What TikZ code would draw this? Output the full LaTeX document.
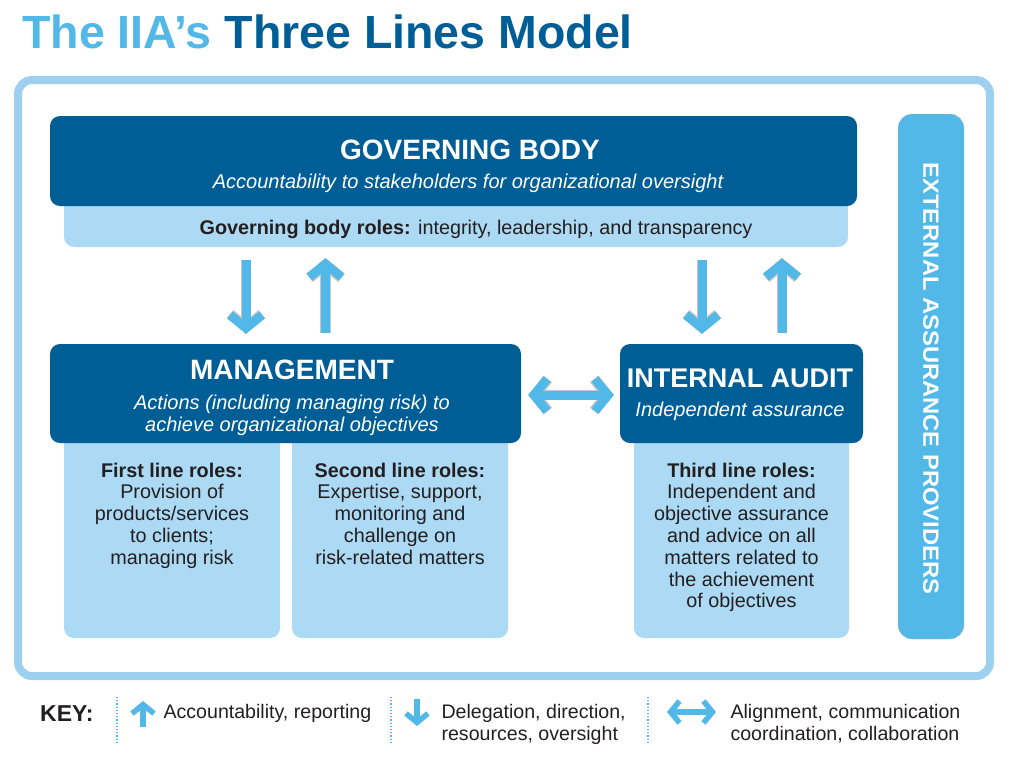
\documentclass[tikz,border=0pt]{standalone}
\usepackage{fontspec}
\setmainfont{Liberation Sans}
\usepackage{color}
\usepackage{tikz}
\usetikzlibrary{arrows.meta}

\definecolor{iiadark}{HTML}{005E96}
\definecolor{iialight}{HTML}{52B8E8}
\definecolor{iiapale}{HTML}{ACD9F3}
\definecolor{iiaframe}{HTML}{9DCFEE}
\definecolor{iiatext}{HTML}{231F20}

\begin{document}
\begin{tikzpicture}[x=1pt, y=-1pt,
		dark/.style={fill=iiadark, rounded corners=10pt, inner sep=0pt},
		pale/.style={fill=iiapale, rounded corners=10pt, inner sep=0pt},
		head/.style={text=white, font=\bfseries\fontsize{28}{30}\selectfont, anchor=base},
		sub/.style={text=white, font=\itshape\fontsize{20}{22}\selectfont, anchor=base, align=center},
		roles/.style={text=iiatext, font=\fontsize{19.8}{21.8}\selectfont, align=center, anchor=base},
		keytext/.style={text=iiatext, font=\fontsize{19.6}{22}\selectfont, align=left, anchor=base west},
		big/.style={draw=iialight, line width=9pt, preaction={draw=gray!45, line width=10.5pt}},
		bigtip/.style={-{Straight Barb[length=13pt,width=32pt]}},
		small/.style={draw=iialight, line width=5.5pt},
		smalltip/.style={-{Straight Barb[length=9pt,width=22pt]}},
		sep/.style={draw=iialight, dotted, line width=1.2pt}]
	\useasboundingbox (0,0) rectangle (1024,763);

	% title
	\node[anchor=base west, inner sep=0pt, text=iiadark, font=\bfseries\fontsize{46.5}{50}\selectfont] (title) at (22,48) {{\color{iialight}The IIA’s} Three Lines Model};

	% frame and boxes
	\node[draw=iiaframe, line width=8pt, rounded corners=14pt, minimum width=972pt, minimum height=596pt] (frame) at (504,378) {};
	\node[pale, minimum width=784pt, minimum height=52pt] (strip) at (456,221) {};
	\node[dark, minimum width=807pt, minimum height=90pt] (gov) at (453.5,161) {};
	\node[pale, minimum width=216pt, minimum height=213pt] (first) at (172,531.5) {};
	\node[pale, minimum width=216pt, minimum height=213pt] (second) at (400,531.5) {};
	\node[pale, minimum width=215pt, minimum height=213pt] (third) at (741.5,531.5) {};
	\node[dark, minimum width=471pt, minimum height=99pt] (mgmt) at (285.5,393.5) {};
	\node[dark, minimum width=243pt, minimum height=99pt] (audit) at (741.5,393.5) {};
	\node[fill=iialight, draw=gray!45, rounded corners=14pt, minimum width=66pt, minimum height=525pt] (ext) at (931,376.5) {};

	% texts (multi-line nodes sit on the baseline of their last line)
	\node[head] (govhead) at (470,159) {GOVERNING BODY};
	\node[sub] (govsub) at (468,188) {Accountability to stakeholders for organizational oversight};
	\node[roles] (govroles) at (476,234) {\textbf{Governing body roles:} integrity, leadership, and transparency};
	\node[head] (mgmthead) at (292,379) {MANAGEMENT};
	\node[sub] (mgmtsub) at (292,431) {Actions (including managing risk) to\\achieve organizational objectives};
	\node[head, font=\bfseries\fontsize{27}{30}\selectfont] (audithead) at (740,387) {INTERNAL AUDIT};
	\node[sub] (auditsub) at (740,416) {Independent assurance};
	\node[roles] (firsttext) at (172,564.2) {\textbf{First line roles:}\\Provision of\\products/services\\to clients;\\managing risk};
	\node[roles] (secondtext) at (400,564.2) {\textbf{Second line roles:}\\Expertise, support,\\monitoring and\\challenge on\\risk-related matters};
	\node[roles] (thirdtext) at (741.5,607.8) {\textbf{Third line roles:}\\Independent and\\objective assurance\\and advice on all\\matters related to\\the achievement\\of objectives};
	\node[rotate=-90, xscale=1.08, text=white, font=\bfseries\fontsize{22}{24}\selectfont] (exttext) at (931,378.5) {EXTERNAL ASSURANCE PROVIDERS};

	% arrows
	\draw[big, bigtip, shorten <=13pt, shorten >=10pt] (246,0 |- strip.south) -- (246,0 |- mgmt.north);
	\draw[big, bigtip, shorten <=11pt, shorten >=11pt] (325.5,0 |- mgmt.north) -- (325.5,0 |- strip.south);
	\draw[big, bigtip, shorten <=13pt, shorten >=10pt] (702,0 |- strip.south) -- (702,0 |- audit.north);
	\draw[big, bigtip, shorten <=11pt, shorten >=11pt] (782,0 |- audit.north) -- (782,0 |- strip.south);
	\draw[big, {Straight Barb[length=13pt,width=32pt]}-{Straight Barb[length=13pt,width=32pt]}, shorten <=7pt, shorten >=6pt] (mgmt.east |- 0,395) -- (audit.west |- 0,395);

	% key
	\node[anchor=base west, inner sep=0pt, text=iiatext, font=\bfseries\fontsize{23}{25}\selectfont] (key) at (40,721) {KEY:};
	\coordinate (sep1top) at (117,697);
	\coordinate (sep1bot) at (117,744);
	\coordinate (sep2top) at (391,697);
	\coordinate (sep2bot) at (391,744);
	\coordinate (sep3top) at (648,697);
	\coordinate (sep3bot) at (648,744);
	\draw[sep] (sep1top) -- (sep1bot);
	\draw[sep] (sep2top) -- (sep2bot);
	\draw[sep] (sep3top) -- (sep3bot);
	\coordinate (upfrom) at (143,727);
	\coordinate (upto) at (143,701);
	\coordinate (downfrom) at (417,699);
	\coordinate (downto) at (417,726);
	\coordinate (bothl) at (667,712);
	\coordinate (bothr) at (716,712);
	\draw[small, smalltip] (upfrom) -- (upto);
	\draw[small, smalltip] (downfrom) -- (downto);
	\draw[small, {Straight Barb[length=9pt,width=22pt]}-{Straight Barb[length=9pt,width=22pt]}] (bothl) -- (bothr);
	\node[keytext] (keyup) at (160,718) {Accountability, reporting};
	\node[keytext] (keydown) at (438,740) {Delegation, direction,\\resources, oversight};
	\node[keytext] (keyboth) at (727,740) {Alignment, communication\\coordination, collaboration};
\end{tikzpicture}
\end{document}
